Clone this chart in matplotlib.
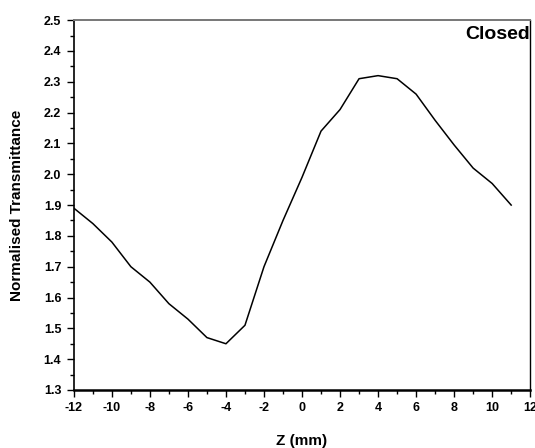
import matplotlib
matplotlib.use('Agg')
import matplotlib.pyplot as plt
from matplotlib.ticker import MultipleLocator

plt.rcParams['font.family'] = ['Liberation Sans', 'DejaVu Sans']
plt.rcParams['font.weight'] = 'bold'
plt.rcParams['axes.unicode_minus'] = False

# z scan position (mm) and normalised transmittance, closed aperture
z = [-12, -11, -10, -9, -8, -7, -6, -5, -4, -3, -2, -1,
     0, 1, 2, 3, 4, 5, 6, 7, 8, 9, 10, 11]
t = [1.89, 1.84, 1.78, 1.70, 1.65, 1.58, 1.53, 1.47, 1.45, 1.51, 1.70, 1.85,
     1.99, 2.14, 2.21, 2.31, 2.32, 2.31, 2.26, 2.175, 2.095, 2.02, 1.97, 1.90]
yticks = [1.3, 1.4, 1.5, 1.6, 1.7, 1.8, 1.9, 2.0, 2.1, 2.2, 2.3, 2.4, 2.5]

fig = plt.figure(figsize=(5.35, 4.48), dpi=100)
ax = fig.add_axes([0.138, 0.1295, 0.853, 0.8255])

ax.plot(z, t, color='black', lw=1.1)

ax.set_xlim(-12, 12)
ax.set_ylim(1.3, 2.5)
ax.xaxis.set_major_locator(MultipleLocator(2))
ax.xaxis.set_minor_locator(MultipleLocator(1))
ax.set_yticks(yticks)
ax.set_yticklabels([f'{v:.1f}' for v in yticks])
ax.yaxis.set_minor_locator(MultipleLocator(0.05))

ax.tick_params(which='both', direction='out', top=False, right=False,
               labelsize=9, width=1.0, color='black')
ax.tick_params(which='major', length=5, pad=4)
ax.tick_params(which='minor', length=3)
for lab in ax.get_xticklabels() + ax.get_yticklabels():
    lab.set_fontweight('bold')

ax.spines['top'].set_color('#777777')
ax.spines['top'].set_linewidth(1.4)
ax.spines['right'].set_linewidth(1.0)
ax.spines['left'].set_linewidth(1.2)
ax.spines['bottom'].set_linewidth(1.8)

ax.set_xlabel('Z (mm)', fontsize=11, fontweight='bold', labelpad=14)
ax.set_ylabel('Normalised Transmittance', fontsize=11, fontweight='bold', labelpad=14)

ax.text(1.0, 0.985, 'Closed', transform=ax.transAxes, ha='right', va='top',
        fontsize=14, fontweight='bold')

fig.savefig('out.png', dpi=100)
